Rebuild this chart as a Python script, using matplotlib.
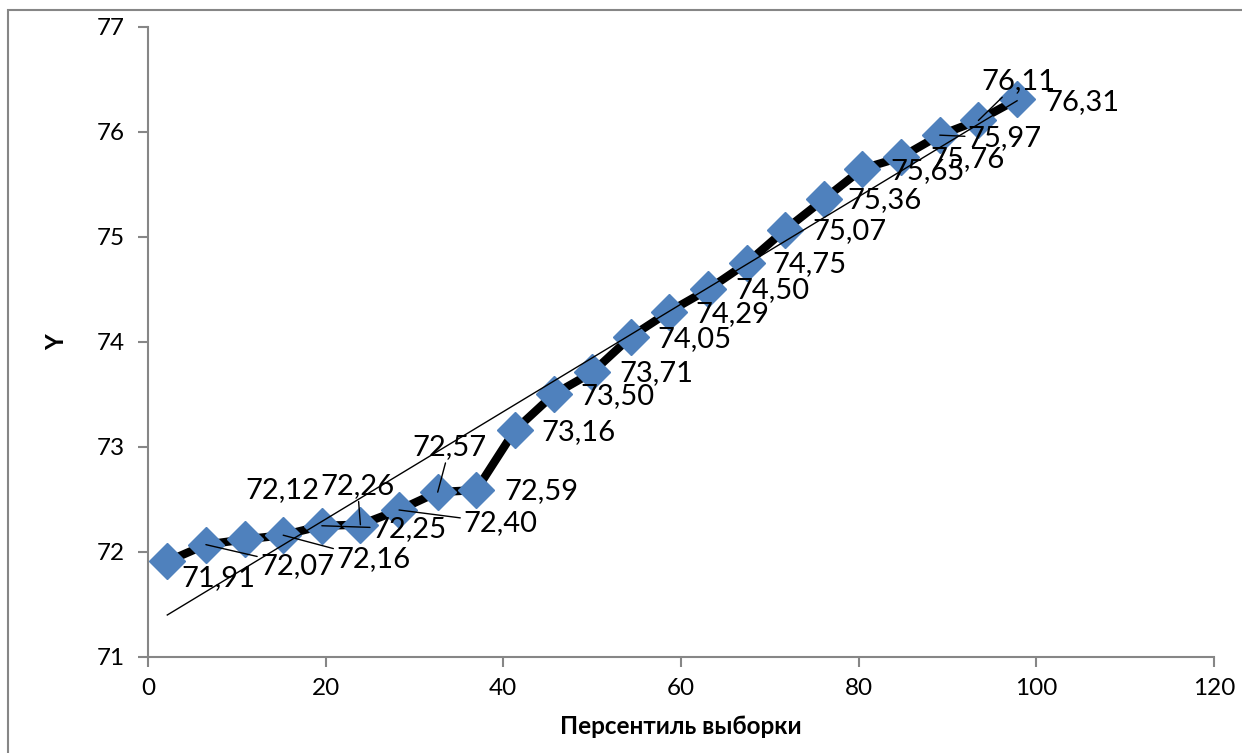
import matplotlib as mlp
mlp.use('Agg')
import matplotlib.pyplot as plt
import matplotlib.patches as patches
import numpy as np

plt.rcParams['font.family'] = ['Lato', 'DejaVu Sans']

# percentile of the sample and Y values
x = [2.17, 6.52, 10.87, 15.22, 19.57, 23.91, 28.26, 32.61, 36.96, 41.30, 45.65, 50.00,
     54.35, 58.70, 63.04, 67.39, 71.74, 76.09, 80.43, 84.78, 89.13, 93.48, 97.83]
y = [71.91, 72.07, 72.12, 72.16, 72.25, 72.26, 72.40, 72.57, 72.59, 73.16, 73.50, 73.71,
     74.05, 74.29, 74.50, 74.75, 75.07, 75.36, 75.65, 75.76, 75.97, 76.11, 76.31]
labels = ['%.2f' % v for v in y]
labels = [s.replace('.', ',') for s in labels]

# where each data label sits, offset from its point (pixels), and leader line yes/no
offs = [(51, -17), (91, -21), (38, 49), (90, -24), (88, -3), (-3, 39), (101, -13), (12, 45),
        (65, -1), (64, -2), (64, -2), (64, -1), (64, -2), (63, -2), (64, -1), (63, -1),
        (64, -1), (61, -1), (65, -2), (66, -2), (65, -3), (40, 39), (65, -3)]
leader = [False, True, False, True, True, True, True, True, False, False, False, False,
          False, False, False, False, False, False, False, False, True, True, False]

gray = '#868686'

fig = plt.figure(figsize=(12.42, 7.53), dpi=100)
ax = fig.add_axes([148/1242, 1-657/753, (1214-148)/1242, (657-27)/753])

# chart border
fig.patches.append(patches.Rectangle((8/1242, -0.1), 2, 0.1 + 1-10/753, transform=fig.transFigure,
                                     fill=False, edgecolor=gray, lw=1.5))

ax.plot(x, y, color='black', lw=6, zorder=2)
ax.plot(x, y, linestyle='none', marker='D', markersize=18, color='#4F81BD', zorder=3)

# linear trend
k, b = np.polyfit(x, y, 1)
xt = np.array([x[0], x[-1]])
ax.plot(xt, k*xt + b, color='black', lw=1, zorder=4)

for xi, yi, s, o, ld in zip(x, y, labels, offs, leader):
    ap = dict(arrowstyle='-', color='black', lw=1, shrinkA=0, shrinkB=0) if ld else None
    ax.annotate(s, (xi, yi), xytext=o, textcoords='offset pixels', ha='center', va='center',
                fontsize=21, arrowprops=ap, zorder=5)

ax.set_xlim(0, 120)
ax.set_ylim(71, 77)
ax.set_xticks(range(0, 121, 20))
ax.set_yticks(range(71, 78))
for sp in ['top', 'right']:
    ax.spines[sp].set_visible(False)
for sp in ['left', 'bottom']:
    ax.spines[sp].set_color(gray)
    ax.spines[sp].set_linewidth(1.5)
ax.tick_params(colors=gray, labelcolor='black', labelsize=17.5, length=7, width=1.5, direction='out')
ax.tick_params(axis='x', pad=8)
ax.tick_params(axis='y', pad=10)

ax.set_xlabel('Персентиль выборки', fontsize=17.5, fontweight='bold', labelpad=12)
ax.set_ylabel('Y', fontsize=17.5, fontweight='bold', labelpad=20)

fig.savefig('out.png', dpi=100)
